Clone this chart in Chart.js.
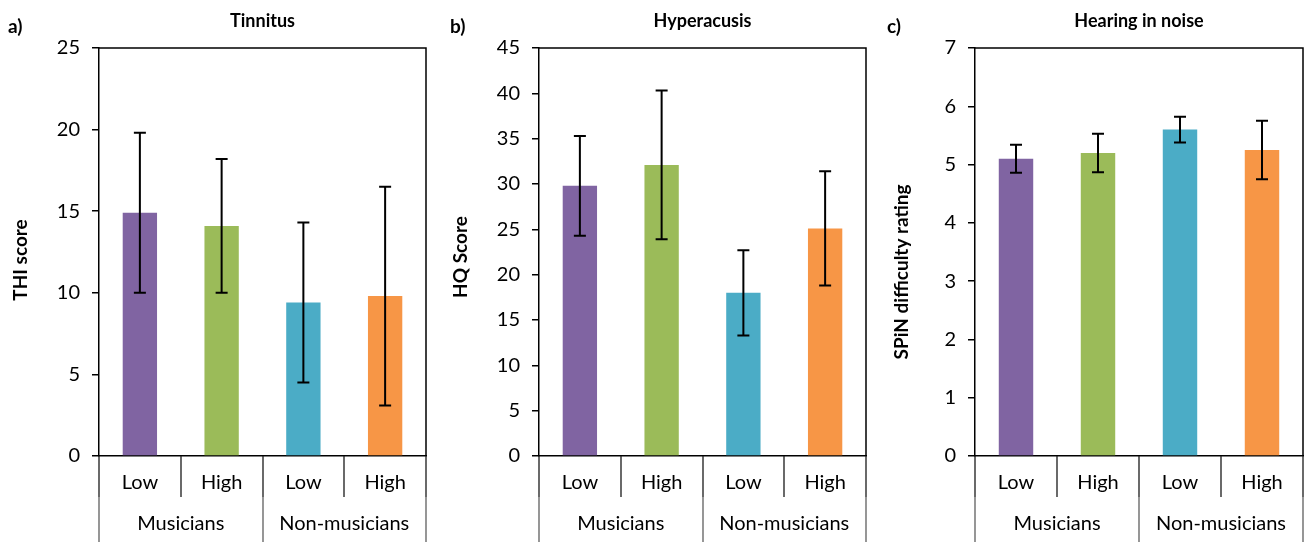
<!DOCTYPE html>
<html>
<head>
<meta charset="utf-8">
<script src="https://cdn.jsdelivr.net/npm/chart.js"></script>
<style>
  body { margin: 0; background: #fff; }
  .panel { position: absolute; top: 0; }
</style>
</head>
<body>
<canvas id="tinnitusChart" class="panel" style="left:0px" width="440" height="542"></canvas>
<canvas id="hyperacusisChart" class="panel" style="left:440px" width="440" height="542"></canvas>
<canvas id="noiseChart" class="panel" style="left:870px" width="439" height="542"></canvas>
<script>
const groupLabels = ['Low', 'High', 'Low', 'High']
const musicianLabels = ['Musicians', 'Non-musicians']
const barColors = ['#8064A2', '#9BBB59', '#4BACC6', '#F79646']

// means and +/- error for each group
const thiScores = [14.9, 14.1, 9.4, 9.8]
const thiErrors = [4.9, 4.1, 4.9, 6.7]

const hqScores = [29.8, 32.1, 18.0, 25.1]
const hqErrors = [5.5, 8.2, 4.7, 6.3]

const spinRatings = [5.1, 5.2, 5.6, 5.25]
const spinErrors = [0.24, 0.33, 0.22, 0.5]

const FONT = 'Lato, "Open Sans", sans-serif'

const errorBars = {
  id: 'errorBars',
  afterDatasetsDraw(chart, args, opts) {
    const ctx = chart.ctx
    const y = chart.scales.y
    const values = chart.data.datasets[0].data
    ctx.save()
    ctx.strokeStyle = '#000'
    ctx.lineWidth = 2
    chart.getDatasetMeta(0).data.forEach((bar, i) => {
      const top = y.getPixelForValue(values[i] + opts.errors[i])
      const bottom = y.getPixelForValue(values[i] - opts.errors[i])
      ctx.beginPath()
      ctx.moveTo(bar.x, top)
      ctx.lineTo(bar.x, bottom)
      ctx.moveTo(bar.x - 6, top)
      ctx.lineTo(bar.x + 6, top)
      ctx.moveTo(bar.x - 6, bottom)
      ctx.lineTo(bar.x + 6, bottom)
      ctx.stroke()
    })
    ctx.restore()
  }
}

// frame, two-row category table under the axis, and the panel texts
const panelDecor = {
  id: 'panelDecor',
  afterDraw(chart, args, opts) {
    const { ctx, chartArea: area, scales: { x } } = chart
    const n = groupLabels.length
    const half = (x.getPixelForValue(1) - x.getPixelForValue(0)) / 2
    const edge = i => Math.round(i < n ? x.getPixelForValue(i) - half : x.getPixelForValue(n - 1) + half)
    const rowSplit = area.bottom + 41
    const tableEnd = chart.height

    ctx.save()
    ctx.strokeStyle = '#000'
    ctx.lineWidth = 1.5
    ctx.beginPath()
    ctx.moveTo(area.left, area.top)
    ctx.lineTo(area.right, area.top)
    ctx.lineTo(area.right, area.bottom)
    ctx.stroke()

    ctx.lineWidth = 1.3
    for (let i = 0; i <= n; i++) {
      ctx.strokeStyle = '#1a1a1a'
      ctx.beginPath()
      ctx.moveTo(edge(i), area.bottom)
      ctx.lineTo(edge(i), rowSplit)
      ctx.stroke()
      if (i % 2 === 0) {
        ctx.strokeStyle = '#5f5f5f'
        ctx.beginPath()
        ctx.moveTo(edge(i), rowSplit)
        ctx.lineTo(edge(i), tableEnd)
        ctx.stroke()
      }
    }

    ctx.fillStyle = '#000'
    ctx.textAlign = 'center'
    ctx.textBaseline = 'middle'
    ctx.font = '20px ' + FONT
    groupLabels.forEach((label, i) => {
      ctx.fillText(label, x.getPixelForValue(i), area.bottom + 27)
    })
    musicianLabels.forEach((label, i) => {
      const mid = (x.getPixelForValue(2 * i) + x.getPixelForValue(2 * i + 1)) / 2
      ctx.fillText(label, mid, area.bottom + 68)
    })

    ctx.font = 'bold 18px ' + FONT
    ctx.fillText(opts.title, (area.left + area.right) / 2, 21)
    ctx.textAlign = 'left'
    ctx.font = 'bold 19px ' + FONT
    ctx.fillText(opts.letter, opts.letterX, 27)

    ctx.translate(opts.yTitleX, opts.yTitleY)
    ctx.rotate(-Math.PI / 2)
    ctx.textAlign = 'center'
    ctx.fillText(opts.yTitle, 0, 0)
    ctx.restore()
  }
}

const makePanel = (canvasId, p) => new Chart(document.getElementById(canvasId), {
  type: 'bar',
  data: {
    labels: groupLabels,
    datasets: [{
      data: p.values,
      backgroundColor: barColors,
      barPercentage: 0.42,
      categoryPercentage: 1
    }]
  },
  options: {
    responsive: false,
    animation: false,
    devicePixelRatio: 1,
    layout: { padding: { top: 48, right: p.right, left: 0, bottom: 0 } },
    plugins: {
      legend: { display: false },
      tooltip: { enabled: false },
      errorBars: { errors: p.errors },
      panelDecor: p.decor
    },
    scales: {
      x: {
        grid: { display: false },
        ticks: { display: false },
        border: { color: '#000', width: 1.5 },
        afterFit: s => { s.height = 86 }
      },
      y: {
        min: 0,
        max: p.max,
        ticks: { stepSize: p.step, color: '#000', padding: 12, font: { family: FONT, size: 20 } },
        grid: { drawOnChartArea: false, tickLength: 7, color: '#000', lineWidth: 1.5 },
        border: { color: '#000', width: 1.5 },
        afterFit: s => { s.width = p.axisWidth }
      }
    }
  },
  plugins: [errorBars, panelDecor]
})

makePanel('tinnitusChart', {
  values: thiScores, errors: thiErrors, max: 25, step: 5, axisWidth: 99, right: 14,
  decor: { title: 'Tinnitus', letter: 'a)', letterX: 8, yTitle: 'THI score', yTitleX: 21, yTitleY: 260 }
})

makePanel('hyperacusisChart', {
  values: hqScores, errors: hqErrors, max: 45, step: 5, axisWidth: 99, right: 14,
  decor: { title: 'Hyperacusis', letter: 'b)', letterX: 10, yTitle: 'HQ Score', yTitleX: 21, yTitleY: 257 }
})

makePanel('noiseChart', {
  values: spinRatings, errors: spinErrors, max: 7, step: 1, axisWidth: 105, right: 6,
  decor: { title: 'Hearing in noise', letter: 'c)', letterX: 17, yTitle: 'SPiN difficulty rating', yTitleX: 32, yTitleY: 272 }
})
</script>
</body>
</html>
